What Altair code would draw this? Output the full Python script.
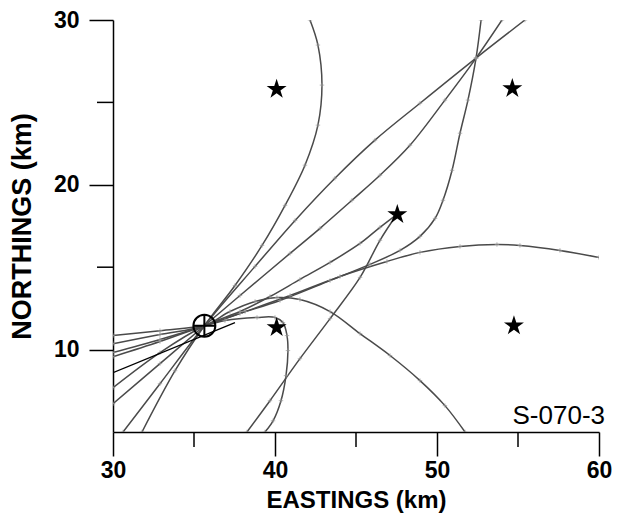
import altair as alt
import pandas as pd

# ---- data (km) ----
arc_x = [42.16, 42.65, 42.90, 42.65, 41.85, 40.62, 39.20, 37.53, 35.64, 33.83, 31.79]
arc_y = [30.00, 28.48, 26.05, 23.62, 21.19, 18.75, 16.32, 13.89, 11.45, 8.72, 5.00]

u1_x = [55.43, 52.41, 48.95, 46.17, 43.70, 41.24, 38.77, 35.64, 32.90, 30.62]
u1_y = [30.00, 27.69, 24.95, 22.71, 20.40, 17.84, 15.05, 11.45, 7.93, 5.00]

u2_x = [54.01, 52.41, 50.49, 48.33, 46.48, 44.75, 42.78, 40.93, 37.84, 35.64, 32.90, 30.00]
u2_y = [30.00, 27.69, 25.14, 22.40, 20.58, 19.06, 17.36, 15.84, 13.28, 11.45, 9.15, 6.72]

s_x = [52.72, 52.41, 51.91, 51.42, 50.93, 50.37, 49.88, 48.95, 47.72, 45.86, 43.40, 40.31, 37.84, 35.64, 32.90, 30.00]
s_y = [30.00, 27.69, 25.14, 23.13, 20.88, 19.06, 17.96, 16.87, 16.02, 15.17, 14.19, 12.98, 12.19, 11.45, 10.49, 9.57]

far_x = [60.00, 57.59, 55.12, 53.70, 51.42, 48.95, 46.91, 44.01, 40.93, 38.15, 35.64, 32.90, 30.00]
far_y = [15.59, 16.02, 16.32, 16.38, 16.26, 15.90, 15.35, 14.44, 13.28, 12.31, 11.45, 10.61, 9.82]

hump_x = [30.00, 32.90, 35.64, 37.22, 38.77, 40.12, 41.54, 43.40, 45.25, 47.10, 48.95, 50.49, 51.73]
hump_y = [10.36, 10.91, 11.45, 12.31, 12.92, 13.16, 13.04, 12.31, 10.97, 9.64, 8.12, 6.60, 5.00]

hook_x = [30.00, 32.90, 35.64, 36.91, 38.89, 40.00, 40.49, 40.74, 40.80, 40.68, 40.37, 39.88, 39.38]
hook_y = [10.85, 11.15, 11.45, 11.76, 11.95, 11.95, 11.64, 10.85, 9.94, 8.42, 6.90, 5.68, 5.00]

sh_x = [47.53, 46.48, 45.25, 43.40, 41.54, 39.69, 37.84, 35.64, 32.90, 30.00]
sh_y = [18.21, 17.42, 16.44, 15.29, 14.26, 13.22, 12.31, 11.45, 9.82, 7.69]

st_x = [47.53, 46.48, 45.25, 43.40, 41.54, 39.69, 38.27]
st_y = [18.21, 16.63, 14.38, 11.88, 9.45, 6.90, 5.00]

black_x = [30.00, 37.53]
black_y = [8.60, 11.64]

station_x = [40.10, 54.65, 47.55, 40.10, 54.75]
station_y = [25.80, 25.85, 18.20, 11.34, 11.45]

event_x = [35.64]
event_y = [11.45]

x_major = [30, 40, 50, 60]
x_minor = [35, 45, 55]
y_major = [10, 20, 30]
y_minor = [15, 25]

label_text = "S-070-3"

curves = {
    "arc": (arc_x, arc_y), "u1": (u1_x, u1_y), "u2": (u2_x, u2_y),
    "s": (s_x, s_y), "far": (far_x, far_y), "hump": (hump_x, hump_y),
    "hook": (hook_x, hook_y), "star_shallow": (sh_x, sh_y), "star_steep": (st_x, st_y),
}
rows = []
for name, (xs, ys) in curves.items():
    for i, (xv, yv) in enumerate(zip(xs, ys)):
        rows.append({"curve": name, "order": i, "x": xv, "y": yv})
lines_df = pd.DataFrame(rows)
black_df = pd.DataFrame({"x": black_x, "y": black_y, "order": list(range(len(black_x)))})
stations_df = pd.DataFrame({"x": station_x, "y": station_y})
event_df = pd.DataFrame({"x": event_x, "y": event_y})
label_df = pd.DataFrame({"x": [60.0], "y": [5.5], "t": [label_text]})
xminor_df = pd.DataFrame({"x": x_minor})
yminor_df = pd.DataFrame({"y": y_minor})

FONT = "Liberation Sans"
W, H = 486, 412

STAR = ("M0,-1L0.2245,-0.309L0.9511,-0.309L0.3633,0.118L0.5878,0.809L0,0.382"
        "L-0.5878,0.809L-0.3633,0.118L-0.9511,-0.309L-0.2245,-0.309Z")
CROSSHAIR = "M-1,0A1,1,0,1,0,1,0A1,1,0,1,0,-1,0ZM-1,0L1,0M0,-1L0,1"

xscale = alt.Scale(domain=[30, 60], nice=False, zero=False)
yscale = alt.Scale(domain=[5, 30], nice=False, zero=False)

xaxis = alt.Axis(
    values=x_major, tickSize=24,
    grid=False, domainColor="black", tickColor="black", domainWidth=1.5, tickWidth=1.5,
    labelFont=FONT, labelFontWeight="bold", labelFontSize=23, labelColor="black",
    labelPadding=3, labelFlush=False, labelOverlap=False,
    title="EASTINGS (km)", titleFont=FONT, titleFontWeight="bold", titleFontSize=24,
    titleColor="black", titlePadding=6,
)
yaxis = alt.Axis(
    values=y_major, tickSize=24,
    grid=False, domainColor="black", tickColor="black", domainWidth=1.5, tickWidth=1.5,
    labelFont=FONT, labelFontWeight="bold", labelFontSize=23, labelColor="black",
    labelPadding=10, labelFlush=False, labelOverlap=False,
    title="NORTHINGS (km)", titleFont=FONT, titleFontWeight="bold", titleFontSize=27,
    titleColor="black", titlePadding=17,
)

lines = alt.Chart(lines_df).mark_line(
    color="#4a4a4a", strokeWidth=1.5, interpolate="catmull-rom", clip=True
).encode(
    x=alt.X("x:Q", scale=xscale, axis=xaxis),
    y=alt.Y("y:Q", scale=yscale, axis=yaxis),
    detail="curve:N",
    order="order:Q",
)

ticks_on_lines = alt.Chart(lines_df).mark_point(
    shape="M-1,0L1,0M0,-1L0,1", size=20, color="#999999", strokeWidth=1, filled=False, clip=True
).encode(x=alt.X("x:Q", scale=xscale), y=alt.Y("y:Q", scale=yscale))

black_line = alt.Chart(black_df).mark_line(color="black", strokeWidth=1.2, clip=True).encode(
    x=alt.X("x:Q", scale=xscale), y=alt.Y("y:Q", scale=yscale), order="order:Q"
)

xminor = alt.Chart(xminor_df).mark_rule(color="black", strokeWidth=1.5).encode(
    x=alt.X("x:Q", scale=xscale), y=alt.value(H), y2=alt.value(H + 15)
)
yminor = alt.Chart(yminor_df).mark_rule(color="black", strokeWidth=1.5).encode(
    y=alt.Y("y:Q", scale=yscale), x=alt.value(0), x2=alt.value(-16)
)

stars = alt.Chart(stations_df).mark_point(
    shape=STAR, size=440, filled=True, color="black", opacity=1, strokeWidth=0
).encode(x=alt.X("x:Q", scale=xscale), y=alt.Y("y:Q", scale=yscale))

event = alt.Chart(event_df).mark_point(
    shape=CROSSHAIR, size=484, filled=False, color="black", strokeWidth=2, opacity=1
).encode(x=alt.X("x:Q", scale=xscale), y=alt.Y("y:Q", scale=yscale))

label = alt.Chart(label_df).mark_text(
    font=FONT, fontSize=26, align="right", baseline="alphabetic", dx=6, color="black"
).encode(x=alt.X("x:Q", scale=xscale), y=alt.Y("y:Q", scale=yscale), text="t:N")

chart = alt.layer(lines, ticks_on_lines, black_line, xminor, yminor, stars, event, label).properties(
    width=W, height=H,
    autosize=alt.AutoSizeParams(type="none"),
    padding={"left": 105, "top": 12, "right": 20, "bottom": 84},
    background="white",
).configure_view(stroke=None)

chart.save("out.html", embed_options={"renderer": "svg", "actions": False})
